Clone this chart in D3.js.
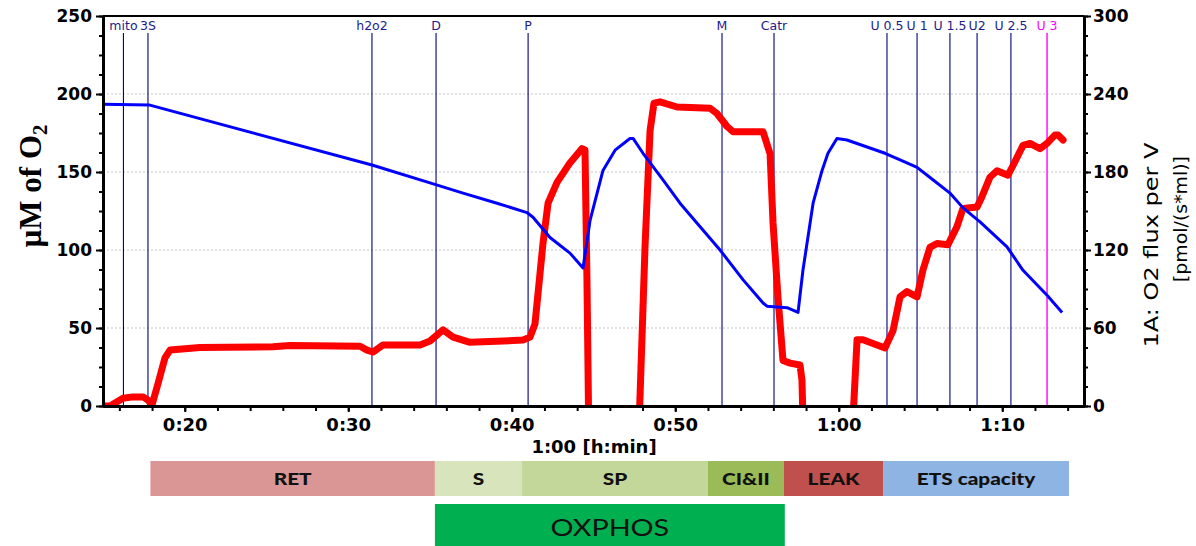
<!DOCTYPE html>
<html>
<head>
<meta charset="utf-8">
<script src="https://cdn.jsdelivr.net/npm/d3@7"></script>
<style>
  body { margin: 0; background: #fff; }
  svg { display: block; }
</style>
</head>
<body>
<div id="chart"></div>
<script>
// O2 concentration (left axis, µM) - time in minutes
const o2Time = [15.0, 17.81, 31.45, 35.0, 37.02, 39.1, 40.93, 41.3, 42.34, 43.56, 44.36, 44.79, 45.58, 46.32, 47.23, 47.42, 48.03, 49.25, 50.29, 52.74, 54.14, 55.37, 55.61, 56.84, 57.51, 57.81, 58.43, 58.98, 59.34, 59.89, 60.5, 61.73, 62.83, 63.75, 64.79, 65.76, 66.8, 67.6, 68.64, 70.29, 71.27, 72.74, 73.66];
const o2Conc = [193.4, 193, 154.5, 143, 136.5, 130, 124, 121, 108, 98, 88.5, 119, 151, 164, 171.5, 171.5, 162, 145, 130, 100, 81, 66, 64, 63, 60, 87, 130, 151, 162, 171.5, 170.5, 166, 162, 157.7, 153, 145, 136.5, 127, 118, 102, 87, 71, 60];

// O2 flux per V (right axis, pmol/(s*ml)) - negative values fall below the axis
const fluxTime = [15.0, 15.43, 16.22, 16.83, 17.45, 17.75, 18.0, 18.36, 18.79, 19.1, 20.93, 25.4, 26.44, 30.72, 31.15, 31.51, 32.13, 34.39, 35.0, 35.8, 36.41, 37.45, 40.69, 41.12, 41.42, 41.91, 42.22, 42.77, 43.56, 44.3, 44.48, 44.6, 44.73, 47.72, 48.15, 48.46, 48.7, 49.07, 50.11, 52.13, 52.55, 53.17, 53.53, 55.37, 55.8, 55.98, 56.28, 56.59, 57.02, 57.63, 57.75, 57.87, 60.75, 61.12, 61.48, 62.83, 63.32, 63.75, 64.17, 64.79, 65.15, 65.58, 66.01, 66.68, 67.23, 67.6, 68.46, 68.76, 69.25, 69.68, 70.35, 70.66, 71.27, 71.7, 72.31, 72.74, 73.23, 73.41, 73.72];
const fluxValue = [0, 0, 6, 7, 7, 4.5, 1, 17, 37, 43, 45, 45.5, 46.5, 46, 43, 41.5, 47, 47, 50, 58.5, 53, 49, 50.7, 53, 63, 125, 156, 172, 187, 198, 197, 97, -40, -40, 122, 212, 233, 234, 230, 229, 225, 215, 211, 211, 194, 141, 84, 35, 33, 31.5, 20, -40, -40, 51, 51, 44.6, 58, 84, 88, 84, 104.6, 122, 125, 124, 138, 152, 153, 161, 176, 181, 177.5, 185, 200.5, 202, 198, 202, 208.5, 208.5, 204.6];

// titration events
const eventNames = ["mito", "3S", "h2o2", "D", "P", "M", "Catr", "U 0.5", "U 1", "U 1.5", "U2", "U 2.5", "U 3"];
const eventTimes = [16.25, 17.75, 31.45, 35.37, 41.0, 52.86, 56.04, 62.95, 64.79, 66.8, 68.46, 70.53, 72.74];

// respiratory states shown under the time axis
const phaseNames = ["RET", "S", "SP", "CI&II", "LEAK", "ETS capacity"];
const phaseStart = [17.9, 35.3, 40.63, 52.0, 56.65, 62.71];
const phaseEnd = [35.3, 40.63, 52.0, 56.65, 62.71, 74.08];
const phaseColors = ["#da9694", "#d8e4bc", "#c4d79b", "#9bbb59", "#c0504d", "#8db4e2"];
const oxphosStart = 35.3, oxphosEnd = 56.7;

const leftTicks = [0, 50, 100, 150, 200, 250];
const rightTicks = [0, 60, 120, 180, 240, 300];
const timeTicks = [20, 30, 40, 50, 60, 70];

const W = 1196, H = 546;
const plot = { left: 103, right: 1084, top: 16, bottom: 406 };

const svg = d3.select("#chart").append("svg")
    .attr("width", W)
    .attr("height", H);

const x = d3.scaleLinear().domain([15, 75]).range([plot.left, plot.right]);
const yL = d3.scaleLinear().domain([0, 250]).range([plot.bottom, plot.top]);
const yR = d3.scaleLinear().domain([0, 300]).range([plot.bottom, plot.top]);

svg.append("clipPath").attr("id", "clip")
    .append("rect")
    .attr("x", plot.left).attr("y", plot.top)
    .attr("width", plot.right - plot.left)
    .attr("height", plot.bottom - plot.top + 2);

// dotted grid
svg.append("g")
    .selectAll("line")
    .data(leftTicks.filter(d => d > 0 && d < 250))
    .join("line")
    .attr("x1", plot.left).attr("x2", plot.right)
    .attr("y1", d => yL(d)).attr("y2", d => yL(d))
    .attr("stroke", "#c4c4c4")
    .attr("stroke-width", 1)
    .attr("stroke-dasharray", "2,2");

// event lines
const ev = eventNames.map((name, i) => ({ name, t: eventTimes[i], color: name === "U 3" ? "#ff00ff" : "#000080" }));

svg.append("g")
    .selectAll("line")
    .data(ev)
    .join("line")
    .attr("x1", d => x(d.t)).attr("x2", d => x(d.t))
    .attr("y1", 33).attr("y2", plot.bottom)
    .attr("stroke", d => d.color)
    .attr("stroke-width", d => d.name === "U 3" ? 1.4 : 1.1);

const evLabels = svg.append("g")
    .selectAll("text")
    .data(ev)
    .join("text")
    .attr("x", d => x(d.t))
    .attr("y", 30)
    .attr("text-anchor", "middle")
    .attr("font-family", "DejaVu Sans, sans-serif")
    .attr("font-size", 12.5)
    .attr("fill", d => d.name === "U 3" ? "#ff00ff" : "#1c1c8c")
    .text(d => d.name);

// keep labels inside the frame and apart from each other
let prevRight = plot.left + 1;
evLabels.each(function(d) {
    const w = this.getComputedTextLength();
    let cx = x(d.t);
    if (cx - w / 2 < prevRight + 3) cx = Math.max(plot.left + 1 + w / 2, cx);
    if (cx - w / 2 < plot.left + 1) cx = plot.left + 1 + w / 2;
    d3.select(this).attr("x", cx);
    prevRight = cx + w / 2;
});

const curves = svg.append("g").attr("clip-path", "url(#clip)");

// O2 flux
const fluxLine = d3.line()
    .x(d => x(d[0]))
    .y(d => yR(d[1]));

curves.append("path")
    .datum(fluxTime.map((t, i) => [t, fluxValue[i]]))
    .attr("d", fluxLine)
    .attr("fill", "none")
    .attr("stroke", "#ff0000")
    .attr("stroke-width", 7)
    .attr("stroke-linejoin", "round")
    .attr("stroke-linecap", "round");

// O2 concentration
const o2Line = d3.line()
    .x(d => x(d[0]))
    .y(d => yL(d[1]));

curves.append("path")
    .datum(o2Time.map((t, i) => [t, o2Conc[i]]))
    .attr("d", o2Line)
    .attr("fill", "none")
    .attr("stroke", "#0000ff")
    .attr("stroke-width", 3)
    .attr("stroke-linejoin", "round");

// top frame
svg.append("line")
    .attr("x1", plot.left).attr("x2", plot.right)
    .attr("y1", plot.top).attr("y2", plot.top)
    .attr("stroke", "#000").attr("stroke-width", 1.8);

function styleAxis(g, size) {
    g.select(".domain").attr("stroke", "#000").attr("stroke-width", 3);
    g.selectAll(".tick line").attr("stroke", "#000").attr("stroke-width", 2);
    g.selectAll("text")
        .attr("font-family", "DejaVu Sans, sans-serif")
        .attr("font-weight", "bold")
        .attr("font-size", size)
        .attr("fill", "#000");
}

// left axis
svg.append("g")
    .attr("transform", `translate(${plot.left},0)`)
    .call(d3.axisLeft(yL).tickValues(d3.range(0, 251, 12.5)).tickSize(4).tickFormat("").tickSizeOuter(0))
    .call(g => styleAxis(g, 17));
svg.append("g")
    .attr("transform", `translate(${plot.left},0)`)
    .call(d3.axisLeft(yL).tickValues(leftTicks).tickSize(7).tickPadding(4).tickSizeOuter(0))
    .call(g => styleAxis(g, 17));

// right axis
svg.append("g")
    .attr("transform", `translate(${plot.right},0)`)
    .call(d3.axisRight(yR).tickValues(d3.range(0, 301, 15)).tickSize(4).tickFormat("").tickSizeOuter(0))
    .call(g => styleAxis(g, 17));
svg.append("g")
    .attr("transform", `translate(${plot.right},0)`)
    .call(d3.axisRight(yR).tickValues(rightTicks).tickSize(7).tickPadding(2).tickSizeOuter(0))
    .call(g => styleAxis(g, 17));

// bottom axis
const fmtTime = m => `${Math.floor(m / 60)}:${String(m % 60).padStart(2, "0")}`;
svg.append("g")
    .attr("transform", `translate(0,${plot.bottom})`)
    .call(d3.axisBottom(x).tickValues(d3.range(16, 75, 2)).tickSize(5).tickFormat("").tickSizeOuter(0))
    .call(g => styleAxis(g, 18));
svg.append("g")
    .attr("transform", `translate(0,${plot.bottom})`)
    .call(d3.axisBottom(x).tickValues(timeTicks).tickSize(6).tickPadding(6).tickFormat(fmtTime).tickSizeOuter(0))
    .call(g => styleAxis(g, 18));

// axis titles
svg.append("text")
    .attr("x", 594).attr("y", 453)
    .attr("text-anchor", "middle")
    .attr("font-family", "DejaVu Sans, sans-serif")
    .attr("font-weight", "bold")
    .attr("font-size", 18)
    .text("1:00 [h:min]");

const leftTitle = svg.append("text")
    .attr("transform", "translate(41,186) rotate(-90)")
    .attr("text-anchor", "middle")
    .attr("font-family", "Liberation Serif, Times New Roman, serif")
    .attr("font-weight", "bold")
    .attr("font-size", 31);
leftTitle.append("tspan").text("µM of O");
leftTitle.append("tspan").attr("font-size", 21).attr("dy", 6).text("2");

svg.append("text")
    .attr("transform", "translate(1158,245) rotate(-90)")
    .attr("text-anchor", "middle")
    .attr("font-family", "DejaVu Sans, sans-serif")
    .attr("font-size", 19)
    .attr("textLength", 205)
    .attr("lengthAdjust", "spacingAndGlyphs")
    .text("1A: O2 flux per V");

svg.append("text")
    .attr("transform", "translate(1187,219) rotate(-90)")
    .attr("text-anchor", "middle")
    .attr("font-family", "DejaVu Sans, sans-serif")
    .attr("font-size", 18)
    .attr("textLength", 126)
    .attr("lengthAdjust", "spacingAndGlyphs")
    .text("[pmol/(s*ml)]");

// respiratory state bars
const phases = phaseNames.map((name, i) => ({ name, s: phaseStart[i], e: phaseEnd[i], c: phaseColors[i] }));

const bars = svg.append("g");
bars.selectAll("rect")
    .data(phases)
    .join("rect")
    .attr("x", d => x(d.s))
    .attr("y", 461)
    .attr("width", d => x(d.e) - x(d.s))
    .attr("height", 35)
    .attr("fill", d => d.c);

bars.selectAll("text")
    .data(phases)
    .join("text")
    .attr("transform", d => `translate(${(x(d.s) + x(d.e)) / 2},485) scale(1.3,1)`)
    .attr("text-anchor", "middle")
    .attr("font-family", "Lato, sans-serif")
    .attr("font-weight", "900")
    .attr("font-size", 16)
    .attr("fill", "#111")
    .text(d => d.name);

svg.append("rect")
    .attr("x", x(oxphosStart))
    .attr("y", 504)
    .attr("width", x(oxphosEnd) - x(oxphosStart))
    .attr("height", 42)
    .attr("fill", "#00b050");

svg.append("text")
    .attr("transform", `translate(${(x(oxphosStart) + x(oxphosEnd)) / 2},536) scale(1.25,1)`)
    .attr("text-anchor", "middle")
    .attr("font-family", "Lato, sans-serif")
    .attr("font-size", 23)
    .attr("fill", "#111")
    .text("OXPHOS");
</script>
</body>
</html>
